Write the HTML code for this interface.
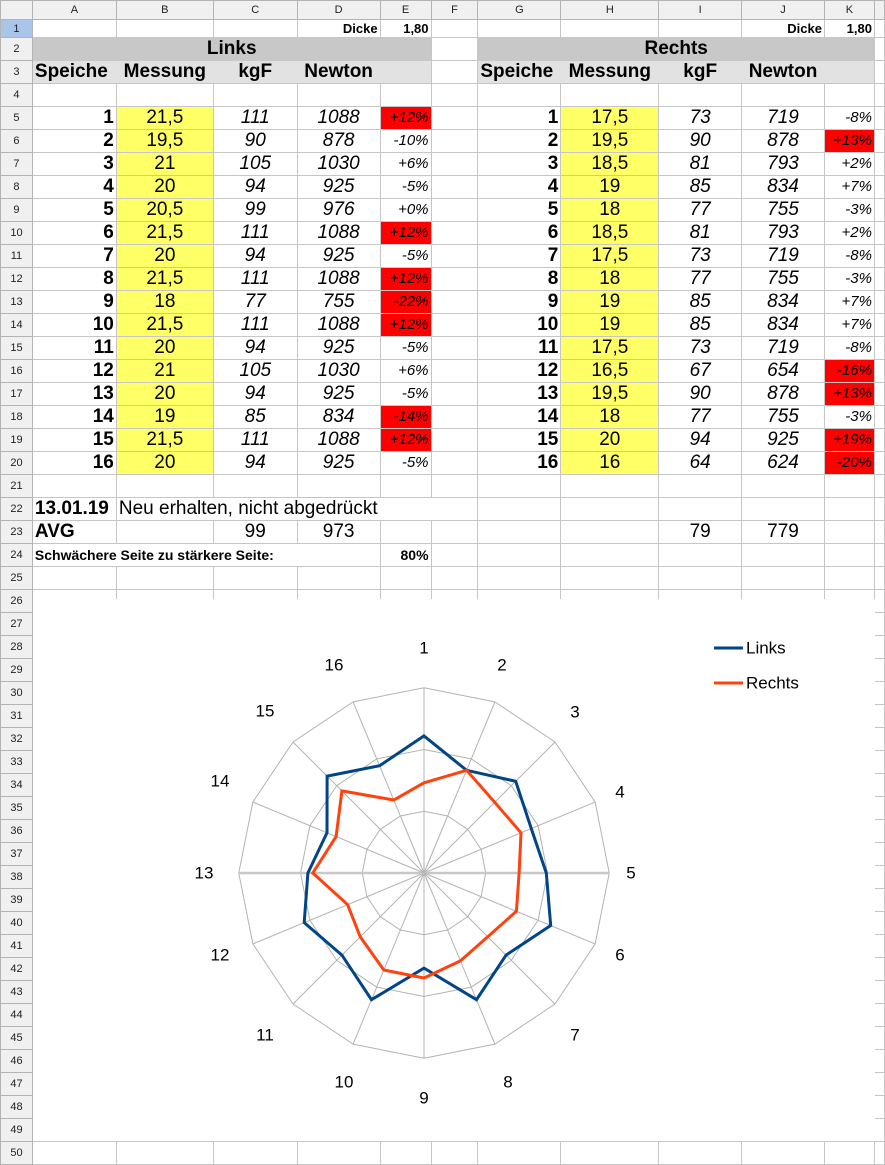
<!DOCTYPE html>
<html><head><meta charset="utf-8">
<style>
html,body{margin:0;padding:0;background:#fff;}
body{width:885px;height:1153px;overflow:hidden;position:relative;font-family:"Liberation Sans",Arial,sans-serif;}
table{border-collapse:collapse;table-layout:fixed;position:absolute;left:0;top:0;}
td{border:1px solid #c6c6c6;padding:0 2px;white-space:nowrap;overflow:visible;font-size:19px;color:#000;line-height:18px;}
tr{height:23px;}
td.h{background:#f0f0f0;border-color:#b4b4b4;font-size:11px;line-height:12px;text-align:center;color:#222;padding:0;}
tr.ch{height:19px;}
tr.ch td{background:#f0f0f0;border-color:#b4b4b4;font-size:11px;line-height:12px;text-align:center;color:#222;}
tr.r1 td{line-height:14px;}
.a{font-weight:bold;text-align:right;}
.b{text-align:center;background:#ffff66;}
.c{text-align:center;font-style:italic;}
.e{text-align:right;font-style:italic;font-size:15px;}
.r{background:#ff0000;}
.g2{background:#c8c8c8;font-weight:bold;text-align:center;font-size:19px;border:none;}
.g3{background:#e2e2e2;font-weight:bold;font-size:19px;border:none;}
.sm{font-size:13px;font-weight:bold;text-align:right;}
</style></head><body>
<table>
<colgroup><col style="width:32px"><col style="width:84px"><col style="width:97px"><col style="width:84px"><col style="width:83px"><col style="width:51px"><col style="width:47px"><col style="width:83px"><col style="width:98px"><col style="width:83px"><col style="width:83px"><col style="width:50px"><col style="width:10px"></colgroup>
<tr class="ch"><td></td><td>A</td><td>B</td><td>C</td><td>D</td><td>E</td><td>F</td><td>G</td><td>H</td><td>I</td><td>J</td><td>K</td><td></td></tr>
<tr class="r1" style="height:18px"><td class="h" style="background:#a9c6ea">1</td><td></td><td></td><td></td><td class="sm">Dicke</td><td class="sm">1,80</td><td></td><td></td><td></td><td></td><td class="sm">Dicke</td><td class="sm">1,80</td><td></td></tr>
<tr><td class="h">2</td><td colspan="5" class="g2">Links</td><td></td><td colspan="5" class="g2">Rechts</td><td></td></tr>
<tr><td class="h">3</td><td class="g3">Speiche</td><td class="g3" style="text-align:center">Messung</td><td class="g3" style="text-align:center">kgF</td><td class="g3" style="text-align:center">Newton</td><td class="g3"></td><td></td><td class="g3">Speiche</td><td class="g3" style="text-align:center">Messung</td><td class="g3" style="text-align:center">kgF</td><td class="g3" style="text-align:center">Newton</td><td class="g3"></td><td></td></tr>
<tr><td class="h">4</td><td></td><td></td><td></td><td></td><td></td><td></td><td></td><td></td><td></td><td></td><td></td><td></td></tr>
<tr><td class="h">5</td><td class="a">1</td><td class="b">21,5</td><td class="c">111</td><td class="c">1088</td><td class="e r">+12%</td><td></td><td class="a">1</td><td class="b">17,5</td><td class="c">73</td><td class="c">719</td><td class="e">-8%</td><td></td></tr>
<tr><td class="h">6</td><td class="a">2</td><td class="b">19,5</td><td class="c">90</td><td class="c">878</td><td class="e">-10%</td><td></td><td class="a">2</td><td class="b">19,5</td><td class="c">90</td><td class="c">878</td><td class="e r">+13%</td><td></td></tr>
<tr><td class="h">7</td><td class="a">3</td><td class="b">21</td><td class="c">105</td><td class="c">1030</td><td class="e">+6%</td><td></td><td class="a">3</td><td class="b">18,5</td><td class="c">81</td><td class="c">793</td><td class="e">+2%</td><td></td></tr>
<tr><td class="h">8</td><td class="a">4</td><td class="b">20</td><td class="c">94</td><td class="c">925</td><td class="e">-5%</td><td></td><td class="a">4</td><td class="b">19</td><td class="c">85</td><td class="c">834</td><td class="e">+7%</td><td></td></tr>
<tr><td class="h">9</td><td class="a">5</td><td class="b">20,5</td><td class="c">99</td><td class="c">976</td><td class="e">+0%</td><td></td><td class="a">5</td><td class="b">18</td><td class="c">77</td><td class="c">755</td><td class="e">-3%</td><td></td></tr>
<tr><td class="h">10</td><td class="a">6</td><td class="b">21,5</td><td class="c">111</td><td class="c">1088</td><td class="e r">+12%</td><td></td><td class="a">6</td><td class="b">18,5</td><td class="c">81</td><td class="c">793</td><td class="e">+2%</td><td></td></tr>
<tr><td class="h">11</td><td class="a">7</td><td class="b">20</td><td class="c">94</td><td class="c">925</td><td class="e">-5%</td><td></td><td class="a">7</td><td class="b">17,5</td><td class="c">73</td><td class="c">719</td><td class="e">-8%</td><td></td></tr>
<tr><td class="h">12</td><td class="a">8</td><td class="b">21,5</td><td class="c">111</td><td class="c">1088</td><td class="e r">+12%</td><td></td><td class="a">8</td><td class="b">18</td><td class="c">77</td><td class="c">755</td><td class="e">-3%</td><td></td></tr>
<tr><td class="h">13</td><td class="a">9</td><td class="b">18</td><td class="c">77</td><td class="c">755</td><td class="e r">-22%</td><td></td><td class="a">9</td><td class="b">19</td><td class="c">85</td><td class="c">834</td><td class="e">+7%</td><td></td></tr>
<tr><td class="h">14</td><td class="a">10</td><td class="b">21,5</td><td class="c">111</td><td class="c">1088</td><td class="e r">+12%</td><td></td><td class="a">10</td><td class="b">19</td><td class="c">85</td><td class="c">834</td><td class="e">+7%</td><td></td></tr>
<tr><td class="h">15</td><td class="a">11</td><td class="b">20</td><td class="c">94</td><td class="c">925</td><td class="e">-5%</td><td></td><td class="a">11</td><td class="b">17,5</td><td class="c">73</td><td class="c">719</td><td class="e">-8%</td><td></td></tr>
<tr><td class="h">16</td><td class="a">12</td><td class="b">21</td><td class="c">105</td><td class="c">1030</td><td class="e">+6%</td><td></td><td class="a">12</td><td class="b">16,5</td><td class="c">67</td><td class="c">654</td><td class="e r">-16%</td><td></td></tr>
<tr><td class="h">17</td><td class="a">13</td><td class="b">20</td><td class="c">94</td><td class="c">925</td><td class="e">-5%</td><td></td><td class="a">13</td><td class="b">19,5</td><td class="c">90</td><td class="c">878</td><td class="e r">+13%</td><td></td></tr>
<tr><td class="h">18</td><td class="a">14</td><td class="b">19</td><td class="c">85</td><td class="c">834</td><td class="e r">-14%</td><td></td><td class="a">14</td><td class="b">18</td><td class="c">77</td><td class="c">755</td><td class="e">-3%</td><td></td></tr>
<tr><td class="h">19</td><td class="a">15</td><td class="b">21,5</td><td class="c">111</td><td class="c">1088</td><td class="e r">+12%</td><td></td><td class="a">15</td><td class="b">20</td><td class="c">94</td><td class="c">925</td><td class="e r">+19%</td><td></td></tr>
<tr><td class="h">20</td><td class="a">16</td><td class="b">20</td><td class="c">94</td><td class="c">925</td><td class="e">-5%</td><td></td><td class="a">16</td><td class="b">16</td><td class="c">64</td><td class="c">624</td><td class="e r">-20%</td><td></td></tr>
<tr><td class="h">21</td><td></td><td></td><td></td><td></td><td></td><td></td><td></td><td></td><td></td><td></td><td></td><td></td></tr>
<tr><td class="h">22</td><td style="font-weight:bold">13.01.19</td><td colspan="5">Neu erhalten, nicht abgedrückt</td><td></td><td></td><td></td><td></td><td></td><td></td></tr>
<tr><td class="h">23</td><td style="font-weight:bold">AVG</td><td></td><td style="text-align:center">99</td><td style="text-align:center">973</td><td></td><td></td><td></td><td></td><td style="text-align:center">79</td><td style="text-align:center">779</td><td></td><td></td></tr>
<tr><td class="h">24</td><td colspan="4" style="font-size:14px;font-weight:bold">Schwächere Seite zu stärkere Seite:</td><td style="font-size:14px;font-weight:bold;text-align:right">80%</td><td></td><td></td><td></td><td></td><td></td><td></td><td></td></tr>
<tr><td class="h">25</td><td></td><td></td><td></td><td></td><td></td><td></td><td></td><td></td><td></td><td></td><td></td><td></td></tr>
<tr><td class="h">26</td><td></td><td></td><td></td><td></td><td></td><td></td><td></td><td></td><td></td><td></td><td></td><td></td></tr>
<tr><td class="h">27</td><td></td><td></td><td></td><td></td><td></td><td></td><td></td><td></td><td></td><td></td><td></td><td></td></tr>
<tr><td class="h">28</td><td></td><td></td><td></td><td></td><td></td><td></td><td></td><td></td><td></td><td></td><td></td><td></td></tr>
<tr><td class="h">29</td><td></td><td></td><td></td><td></td><td></td><td></td><td></td><td></td><td></td><td></td><td></td><td></td></tr>
<tr><td class="h">30</td><td></td><td></td><td></td><td></td><td></td><td></td><td></td><td></td><td></td><td></td><td></td><td></td></tr>
<tr><td class="h">31</td><td></td><td></td><td></td><td></td><td></td><td></td><td></td><td></td><td></td><td></td><td></td><td></td></tr>
<tr><td class="h">32</td><td></td><td></td><td></td><td></td><td></td><td></td><td></td><td></td><td></td><td></td><td></td><td></td></tr>
<tr><td class="h">33</td><td></td><td></td><td></td><td></td><td></td><td></td><td></td><td></td><td></td><td></td><td></td><td></td></tr>
<tr><td class="h">34</td><td></td><td></td><td></td><td></td><td></td><td></td><td></td><td></td><td></td><td></td><td></td><td></td></tr>
<tr><td class="h">35</td><td></td><td></td><td></td><td></td><td></td><td></td><td></td><td></td><td></td><td></td><td></td><td></td></tr>
<tr><td class="h">36</td><td></td><td></td><td></td><td></td><td></td><td></td><td></td><td></td><td></td><td></td><td></td><td></td></tr>
<tr><td class="h">37</td><td></td><td></td><td></td><td></td><td></td><td></td><td></td><td></td><td></td><td></td><td></td><td></td></tr>
<tr><td class="h">38</td><td></td><td></td><td></td><td></td><td></td><td></td><td></td><td></td><td></td><td></td><td></td><td></td></tr>
<tr><td class="h">39</td><td></td><td></td><td></td><td></td><td></td><td></td><td></td><td></td><td></td><td></td><td></td><td></td></tr>
<tr><td class="h">40</td><td></td><td></td><td></td><td></td><td></td><td></td><td></td><td></td><td></td><td></td><td></td><td></td></tr>
<tr><td class="h">41</td><td></td><td></td><td></td><td></td><td></td><td></td><td></td><td></td><td></td><td></td><td></td><td></td></tr>
<tr><td class="h">42</td><td></td><td></td><td></td><td></td><td></td><td></td><td></td><td></td><td></td><td></td><td></td><td></td></tr>
<tr><td class="h">43</td><td></td><td></td><td></td><td></td><td></td><td></td><td></td><td></td><td></td><td></td><td></td><td></td></tr>
<tr><td class="h">44</td><td></td><td></td><td></td><td></td><td></td><td></td><td></td><td></td><td></td><td></td><td></td><td></td></tr>
<tr><td class="h">45</td><td></td><td></td><td></td><td></td><td></td><td></td><td></td><td></td><td></td><td></td><td></td><td></td></tr>
<tr><td class="h">46</td><td></td><td></td><td></td><td></td><td></td><td></td><td></td><td></td><td></td><td></td><td></td><td></td></tr>
<tr><td class="h">47</td><td></td><td></td><td></td><td></td><td></td><td></td><td></td><td></td><td></td><td></td><td></td><td></td></tr>
<tr><td class="h">48</td><td></td><td></td><td></td><td></td><td></td><td></td><td></td><td></td><td></td><td></td><td></td><td></td></tr>
<tr><td class="h">49</td><td></td><td></td><td></td><td></td><td></td><td></td><td></td><td></td><td></td><td></td><td></td><td></td></tr>
<tr><td class="h">50</td><td></td><td></td><td></td><td></td><td></td><td></td><td></td><td></td><td></td><td></td><td></td><td></td></tr>
</table>

<svg width="885" height="1153" style="position:absolute;left:0;top:0" xmlns="http://www.w3.org/2000/svg">
<defs>
<polygon id="ring" points="0,-1 0.3827,-0.9239 0.7071,-0.7071 0.9239,-0.3827 1,0 0.9239,0.3827 0.7071,0.7071 0.3827,0.9239 0,1 -0.3827,0.9239 -0.7071,0.7071 -0.9239,0.3827 -1,0 -0.9239,-0.3827 -0.7071,-0.7071 -0.3827,-0.9239" fill="none" stroke="#b3b3b3" stroke-width="1" vector-effect="non-scaling-stroke"/>
</defs>
<rect x="33" y="599" width="842" height="542" fill="#fff"/>
<use href="#ring" transform="translate(424,873) scale(61.75)"/>
<use href="#ring" transform="translate(424,873) scale(123.5)"/>
<use href="#ring" transform="translate(424,873) scale(185.25)"/>
<g stroke="#b3b3b3" stroke-width="1">
<line x1="424" y1="873" x2="424" y2="687.75"/>
<line x1="424" y1="873" x2="494.9" y2="701.9"/>
<line x1="424" y1="873" x2="555" y2="742"/>
<line x1="424" y1="873" x2="595.1" y2="802.1"/>
<line x1="424" y1="873" x2="609.25" y2="873" stroke-width="2.5" stroke="#c8c8c8"/>
<line x1="424" y1="873" x2="595.1" y2="943.9"/>
<line x1="424" y1="873" x2="555" y2="1004"/>
<line x1="424" y1="873" x2="494.9" y2="1044.1"/>
<line x1="424" y1="873" x2="424" y2="1058.25"/>
<line x1="424" y1="873" x2="353.1" y2="1044.1"/>
<line x1="424" y1="873" x2="293" y2="1004"/>
<line x1="424" y1="873" x2="252.9" y2="943.9"/>
<line x1="424" y1="873" x2="238.75" y2="873" stroke-width="2.5" stroke="#c8c8c8"/>
<line x1="424" y1="873" x2="252.9" y2="802.1"/>
<line x1="424" y1="873" x2="293" y2="742"/>
<line x1="424" y1="873" x2="353.1" y2="701.9"/>
</g>
<polygon fill="none" stroke="#004586" stroke-width="3" points="424,735.9 466.6,770.3 515.7,781.3 531.3,828.6 546.3,873 550.7,925.5 506.1,955.1 476.5,999.7 424,968.1 371.5,999.7 341.9,955.1 304.2,922.6 307.9,873 327,832.8 327.1,776.1 379.6,765.7"/>
<polygon fill="none" stroke="#ff420e" stroke-width="3" points="424,782.8 466.6,770.3 494.7,802.3 521,832.8 519.1,873 516.4,911.3 487.8,936.8 460.4,960.9 424,978 383.8,970 360.2,936.8 347.6,904.6 312.8,873 336.1,836.6 341.9,790.9 393.8,800"/>
<g font-family="Liberation Sans, Arial, sans-serif" font-size="17" fill="#000" text-anchor="middle" dominant-baseline="central">
<text x="424" y="648">1</text>
<text x="502" y="665">2</text>
<text x="575" y="712">3</text>
<text x="620" y="792">4</text>
<text x="631" y="873">5</text>
<text x="620" y="955">6</text>
<text x="575" y="1035">7</text>
<text x="508" y="1082">8</text>
<text x="424" y="1098">9</text>
<text x="344" y="1082">10</text>
<text x="265" y="1035">11</text>
<text x="220" y="955">12</text>
<text x="204" y="873">13</text>
<text x="220" y="781">14</text>
<text x="265" y="711">15</text>
<text x="334" y="665">16</text>
</g>
<line x1="714" y1="648" x2="743" y2="648" stroke="#004586" stroke-width="3"/>
<line x1="714" y1="683" x2="743" y2="683" stroke="#ff420e" stroke-width="3"/>
<g font-family="Liberation Sans, Arial, sans-serif" font-size="17" fill="#000" dominant-baseline="central">
<text x="746" y="648">Links</text>
<text x="746" y="683">Rechts</text>
</g>
</svg>
</body></html>
